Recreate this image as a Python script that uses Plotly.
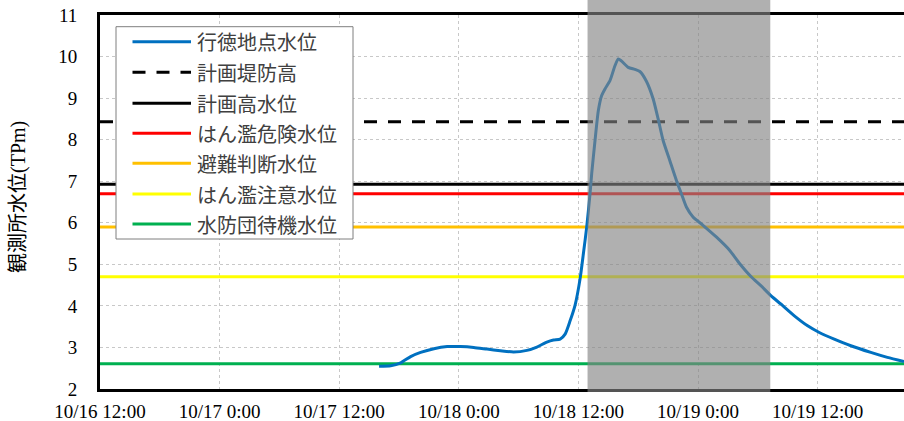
import plotly.graph_objects as go

# ---- data ----
times = [
    "2023-10-17 16:00", "2023-10-17 17:10", "2023-10-17 18:10", "2023-10-17 19:10",
    "2023-10-17 20:10", "2023-10-17 21:30", "2023-10-17 22:50", "2023-10-18 00:10",
    "2023-10-18 01:30", "2023-10-18 02:50", "2023-10-18 04:10", "2023-10-18 05:30",
    "2023-10-18 06:50", "2023-10-18 07:50", "2023-10-18 08:50", "2023-10-18 09:30",
    "2023-10-18 10:10", "2023-10-18 10:40", "2023-10-18 11:10", "2023-10-18 11:40",
    "2023-10-18 12:10", "2023-10-18 12:30", "2023-10-18 12:50", "2023-10-18 13:10",
    "2023-10-18 13:20", "2023-10-18 13:40", "2023-10-18 14:00", "2023-10-18 14:20",
    "2023-10-18 14:40", "2023-10-18 15:10", "2023-10-18 15:40", "2023-10-18 16:00",
    "2023-10-18 16:20", "2023-10-18 17:00", "2023-10-18 17:40", "2023-10-18 18:10",
    "2023-10-18 18:50", "2023-10-18 19:30", "2023-10-18 20:00", "2023-10-18 20:30",
    "2023-10-18 21:10", "2023-10-18 21:50", "2023-10-18 22:20", "2023-10-18 22:50",
    "2023-10-18 23:30", "2023-10-19 00:30", "2023-10-19 01:50", "2023-10-19 03:10",
    "2023-10-19 04:10", "2023-10-19 05:20", "2023-10-19 06:20", "2023-10-19 07:20",
    "2023-10-19 08:20", "2023-10-19 09:40", "2023-10-19 11:00", "2023-10-19 12:10",
    "2023-10-19 13:40", "2023-10-19 15:20", "2023-10-19 17:20", "2023-10-19 19:00",
    "2023-10-19 20:40",
]
water_level = [
    2.55, 2.56, 2.63, 2.78,
    2.88, 2.97, 3.02, 3.02,
    3.00, 2.96, 2.92, 2.89,
    2.93, 3.01, 3.13, 3.18,
    3.20, 3.32, 3.64, 4.02,
    4.65, 5.26, 5.90, 6.70,
    7.18, 7.98, 8.70, 9.06,
    9.22, 9.42, 9.78, 9.94,
    9.89, 9.74, 9.69, 9.64,
    9.40, 8.98, 8.50, 7.98,
    7.50, 7.02, 6.70, 6.38,
    6.14, 5.94, 5.66, 5.34,
    5.02, 4.70, 4.48, 4.24,
    4.04, 3.76, 3.52, 3.36,
    3.20, 3.04, 2.88, 2.76,
    2.66,
]

series_names = ["行徳地点水位", "計画堤防高", "計画高水位", "はん濫危険水位",
                "避難判断水位", "はん濫注意水位", "水防団待機水位"]
level_names = series_names[1:]
level_values = [8.43, 6.93, 6.70, 5.90, 4.70, 2.61]

x_start = "2023-10-16 12:00"
x_end = "2023-10-19 20:40"
shade_start = "2023-10-18 12:55"
shade_end = "2023-10-19 07:15"

tick_vals = ["2023-10-16 12:00", "2023-10-17 00:00", "2023-10-17 12:00",
             "2023-10-18 00:00", "2023-10-18 12:00", "2023-10-19 00:00",
             "2023-10-19 12:00"]
tick_text = ["10/16 12:00", "10/17 0:00", "10/17 12:00", "10/18 0:00",
             "10/18 12:00", "10/19 0:00", "10/19 12:00"]
y_ticks = [2, 3, 4, 5, 6, 7, 8, 9, 10, 11]
y_title = "観測所水位(TPm)"

# ---- styles ----
colors = ["#0070C0", "#000000", "#000000", "#FF0000", "#FFC000", "#FFFF00", "#00B050"]
dashes = ["solid", "13px,11px", "solid", "solid", "solid", "solid", "solid"]

fig = go.Figure()

for name, val, col, dsh in zip(level_names, level_values, colors[1:], dashes[1:]):
    fig.add_trace(go.Scatter(
        x=[x_start, x_end], y=[val, val], mode="lines", name=name,
        line=dict(color=col, width=3, dash=dsh), showlegend=False,
        hoverinfo="skip"))

fig.add_trace(go.Scatter(
    x=times, y=water_level, mode="lines", name=series_names[0],
    line=dict(color=colors[0], width=3, shape="spline", smoothing=0.6),
    showlegend=False))

# Geometry in page pixels (page body margin is removed by post_script).
FW, FH = 904, 421
L, T, R, B = 100, 15, 904, 389
W, H = R - L, B - T


def px(x):
    return (x - L) / W


def py(y):
    return (B - y) / H


shapes = [
    dict(type="rect", xref="x", yref="paper", x0=shade_start, x1=shade_end,
         y0=py(392), y1=py(0), fillcolor="#848484", opacity=0.64,
         line=dict(width=0), layer="above"),
    dict(type="rect", xref="paper", yref="paper", x0=px(116), x1=px(353),
         y0=py(239), y1=py(26.7), fillcolor="white",
         line=dict(color="#7f7f7f", width=1), layer="above"),
]
annotations = []
row_y = [41.7, 72.3, 103.3, 133.3, 163.3, 194, 224]
for name, col, dsh, ry in zip(series_names, colors, dashes, row_y):
    shapes.append(dict(type="line", xref="paper", yref="paper",
                       x0=px(132.5), x1=px(191), y0=py(ry), y1=py(ry),
                       line=dict(color=col, width=3, dash=dsh), layer="above"))
    annotations.append(dict(xref="paper", yref="paper", x=px(195), y=py(ry),
                            text=name, showarrow=False, xanchor="left",
                            yanchor="middle",
                            font=dict(family="Noto Sans CJK JP", size=20,
                                      color="#404040")))

annotations.append(dict(xref="paper", yref="paper", x=px(19), y=py(197),
                        text=y_title, showarrow=False, textangle=-90,
                        xanchor="center", yanchor="middle",
                        font=dict(family="Liberation Serif, Noto Sans CJK JP",
                                  size=20, color="#000000")))

fig.update_layout(
    width=FW, height=FH,
    margin=dict(l=L, r=FW - R, t=T, b=FH - B, pad=0, autoexpand=False),
    plot_bgcolor="white", paper_bgcolor="white",
    shapes=shapes, annotations=annotations, showlegend=False,
    font=dict(family="Liberation Serif, Noto Sans CJK JP", size=19, color="#000000"),
)
fig.update_xaxes(
    type="date", range=[x_start, x_end], automargin=False,
    tickvals=tick_vals, ticktext=tick_text, ticks="", ticklabelstandoff=3,
    ticklabeloverflow="allow",
    showgrid=True, gridcolor="#c8c8c8", griddash="dot", gridwidth=1,
    showline=True, linecolor="black", linewidth=3, mirror=True,
    zeroline=False,
)
fig.update_yaxes(
    range=[2, 11], tickvals=y_ticks, ticks="", ticklabelstandoff=16,
    ticklabeloverflow="allow", automargin=False,
    showgrid=True, gridcolor="#c8c8c8", griddash="dot", gridwidth=1,
    showline=True, linecolor="black", linewidth=3, mirror=False,
    zeroline=False,
)

fig.write_html("out.html",
               config={"displayModeBar": False},
               post_script="document.body.style.margin='0';"
                           "document.body.style.overflow='hidden';")
